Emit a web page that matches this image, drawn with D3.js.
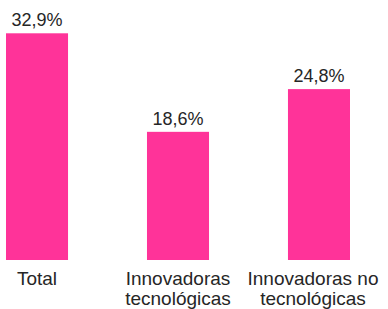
<!DOCTYPE html>
<html>
<head>
<meta charset="utf-8">
<script src="https://cdn.jsdelivr.net/npm/d3@7/dist/d3.min.js"></script>
<style>
  html, body { margin: 0; padding: 0; background: #fff; }
  svg { display: block; font-family: "Liberation Sans", Arial, sans-serif; }
</style>
</head>
<body>
<div id="chart"></div>
<script>
var categories = ['Total', 'Innovadoras tecnológicas', 'Innovadoras no tecnológicas'];
var categoryLines = [['Total'], ['Innovadoras', 'tecnológicas'], ['Innovadoras no', 'tecnológicas']];
var values = [32.9, 18.6, 24.8];
var valueLabels = ['32,9%', '18,6%', '24,8%'];

var width = 388,
	height = 309,
	baseY = 260;

var svg = d3.select('#chart').append('svg')
	.attr('width', width)
	.attr('height', height);

var x = d3.scaleBand()
	.domain(categories)
	.range([6, 350])
	.paddingInner(0.56)
	.paddingOuter(0);

var y = d3.scaleLinear()
	.domain([0, 32.9])
	.range([baseY, 33.3]);

//Bars
svg.selectAll('rect.bar')
	.data(values)
	.enter().append('rect')
	.attr('class', 'bar')
	.attr('x', function(d, i) { return x(categories[i]); })
	.attr('y', function(d) { return y(d); })
	.attr('width', x.bandwidth())
	.attr('height', function(d) { return baseY - y(d); })
	.attr('fill', '#ff3399');

//Value labels above bars
svg.selectAll('text.value')
	.data(values)
	.enter().append('text')
	.attr('class', 'value')
	.attr('x', function(d, i) { return x(categories[i]) + x.bandwidth() / 2; })
	.attr('y', function(d) { return y(d) - 7; })
	.attr('text-anchor', 'middle')
	.attr('font-size', '18px')
	.attr('fill', '#262626')
	.text(function(d, i) { return valueLabels[i]; });

//Category labels, wrapped on two lines
var cat = svg.selectAll('text.cat')
	.data(categories)
	.enter().append('text')
	.attr('class', 'cat')
	.attr('text-anchor', 'middle')
	.attr('font-size', '19px')
	.attr('fill', '#262626');

cat.each(function(d, i) {
	var cx = x(d) + x.bandwidth() / 2;
	if (i === 2) cx -= 6;
	d3.select(this).selectAll('tspan')
		.data(categoryLines[i])
		.enter().append('tspan')
		.attr('x', cx)
		.attr('y', function(l, j) { return 285 + j * 20; })
		.text(function(l) { return l; });
});
</script>
</body>
</html>
